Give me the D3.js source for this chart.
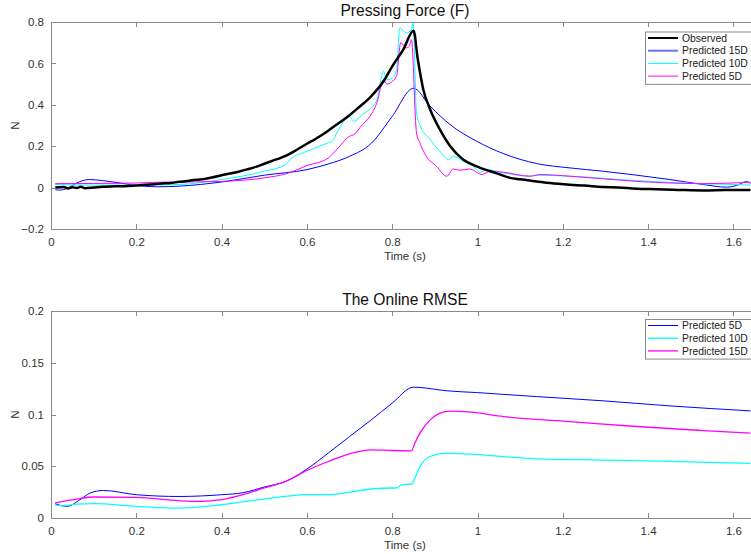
<!DOCTYPE html>
<html>
  <head>
    <meta charset="utf-8">
    <style>
      body { margin: 0; background: #fff; }
      svg { display: block; font-family: "Liberation Sans", Arial, sans-serif; }
      .axis path, .axis line { stroke: #8a8a8a; shape-rendering: crispEdges; }
      .axis text { fill: #333; font-size: 11.5px; }
      .title { font-size: 15.6px; fill: #111; }
      .label { font-size: 11.5px; fill: #333; }
      .legend text { font-size: 10.4px; fill: #222; }
    </style>
  </head>
  <body>
    <svg width="751" height="554"></svg>
    <script src="https://cdnjs.cloudflare.com/ajax/libs/d3/7.8.5/d3.min.js"></script>
    <script>
      // top panel: pressing force
      var obsT = [0.01,0.03,0.04,0.05,0.06,0.07,0.08,0.1,0.12,0.15,0.18,0.2,0.23,0.26,0.28,0.3,0.32,0.34,0.36,0.38,0.4,0.42,0.44,0.46,0.48,0.5,0.52,0.54,0.55,0.57,0.6,0.62,0.65,0.67,0.7,0.72,0.75,0.78,0.8,0.826,0.85,0.86,0.873,0.889,0.912,0.936,0.967,0.998,1.03,1.05,1.076,1.1,1.139,1.17,1.217,1.25,1.295,1.33,1.373,1.42,1.47,1.529,1.58,1.64];
      var obsV = [0,0.003,-0.004,0.002,-0.002,0.004,-0.003,0,0.004,0.006,0.008,0.01,0.015,0.02,0.022,0.028,0.032,0.038,0.042,0.05,0.06,0.068,0.077,0.088,0.1,0.115,0.13,0.145,0.153,0.175,0.212,0.235,0.275,0.305,0.35,0.385,0.44,0.515,0.586,0.667,0.758,0.62,0.473,0.377,0.28,0.2,0.135,0.103,0.079,0.065,0.047,0.04,0.03,0.022,0.014,0.01,0.003,0.001,-0.006,-0.008,-0.011,-0.014,-0.012,-0.011];

      var p15T = [0.01,0.02,0.04,0.06,0.09,0.12,0.15,0.2,0.25,0.3,0.4,0.5,0.6,0.65,0.7,0.75,0.8,0.85,0.889,0.936,0.998,1.061,1.139,1.217,1.295,1.373,1.451,1.529,1.584,1.607,1.631,1.64];
      var p15V = [-0.01,-0.012,-0.002,0.022,0.039,0.034,0.026,0.01,0.004,0.007,0.027,0.06,0.087,0.114,0.151,0.212,0.344,0.48,0.393,0.304,0.224,0.164,0.116,0.095,0.079,0.06,0.039,0.015,0.002,0.01,0.029,0.02];

      var p10T = [0.01,0.1,0.2,0.3,0.4,0.5,0.55,0.56,0.6,0.65,0.66,0.67,0.7,0.71,0.73,0.748,0.764,0.78,0.787,0.8,0.81,0.818,0.833,0.845,0.849,0.857,0.865,0.889,0.912,0.932,0.943,0.967,0.99,1.006,1.022,1.061,1.123,1.139,1.217,1.373,1.529,1.607,1.64];
      var p10V = [0.015,0.012,0.012,0.015,0.039,0.079,0.111,0.135,0.175,0.216,0.225,0.264,0.344,0.32,0.353,0.38,0.425,0.562,0.52,0.53,0.57,0.771,0.747,0.763,0.795,0.36,0.304,0.232,0.175,0.135,0.151,0.127,0.103,0.074,0.087,0.071,0.055,0.06,0.055,0.034,0.018,0.015,0.012];

      var p5T = [0.01,0.1,0.2,0.25,0.3,0.4,0.5,0.55,0.6,0.65,0.67,0.7,0.71,0.73,0.748,0.764,0.78,0.787,0.81,0.82,0.833,0.84,0.845,0.857,0.865,0.88,0.904,0.928,0.943,0.959,0.982,1.01,1.03,1.061,1.123,1.147,1.217,1.373,1.529,1.64];
      var p5V = [0.019,0.02,0.022,0.026,0.027,0.03,0.047,0.066,0.106,0.143,0.184,0.248,0.256,0.304,0.344,0.409,0.522,0.5,0.538,0.7,0.675,0.683,0.715,0.264,0.216,0.151,0.103,0.055,0.09,0.084,0.09,0.063,0.079,0.074,0.055,0.063,0.055,0.03,0.019,0.026];

      // bottom panel: online RMSE
      var r5T = [0.01,0.037,0.068,0.091,0.123,0.2,0.3,0.4,0.45,0.5,0.55,0.6,0.65,0.7,0.75,0.8,0.85,0.865,0.928,0.998,1.139,1.295,1.451,1.64];
      var r5V = [0.0138,0.0112,0.0177,0.024,0.0266,0.0225,0.0208,0.0225,0.0244,0.0299,0.0353,0.0473,0.0627,0.0787,0.0945,0.111,0.1264,0.1261,0.1229,0.1212,0.1173,0.1132,0.1083,0.1035];

      var r10T = [0.01,0.03,0.06,0.1,0.2,0.3,0.4,0.5,0.55,0.6,0.65,0.7,0.75,0.8,0.81,0.822,0.845,0.853,0.865,0.889,0.928,0.983,1.139,1.295,1.451,1.64];
      var r10V = [0.0125,0.0118,0.0135,0.0138,0.0112,0.0096,0.0128,0.0183,0.0208,0.0225,0.0225,0.025,0.028,0.029,0.029,0.0321,0.0328,0.0386,0.0498,0.0594,0.0627,0.0617,0.0572,0.056,0.0547,0.0527];

      var r15T = [0.01,0.04,0.06,0.1,0.2,0.3,0.35,0.4,0.45,0.5,0.55,0.6,0.65,0.7,0.75,0.8,0.845,0.853,0.865,0.889,0.912,0.936,0.983,1.061,1.217,1.373,1.529,1.64];
      var r15V = [0.0146,0.017,0.0183,0.0203,0.0199,0.0167,0.016,0.0177,0.0225,0.029,0.0353,0.0459,0.0546,0.062,0.0659,0.0652,0.0649,0.0723,0.082,0.0948,0.1013,0.1032,0.1022,0.098,0.0932,0.0884,0.0845,0.082];

      var xTicks = [0, 0.2, 0.4, 0.6, 0.8, 1, 1.2, 1.4, 1.6];
      var topTicks = [-0.2, 0, 0.2, 0.4, 0.6, 0.8];
      var botTicks = [0, 0.05, 0.1, 0.15, 0.2];

      function zip(ts, vs) { return ts.map(function(t, i){ return {t: t, v: vs[i]}; }); }

      var svg = d3.select("svg");

      function panel(opt) {
        var x = d3.scaleLinear().domain([0, 1.66]).range([51, 759]);
        var y = d3.scaleLinear().domain(opt.ydom).range([opt.bottom, opt.top]);
        var g = svg.append("g");

        g.append("defs").append("clipPath").attr("id", opt.id)
          .append("rect").attr("x", 51).attr("y", opt.top - 3)
          .attr("width", 708).attr("height", opt.bottom - opt.top + 6);

        var line = d3.line().curve(d3.curveMonotoneX)
          .x(function(d){ return x(d.t); }).y(function(d){ return y(d.v); });
        var lines = g.append("g").attr("clip-path", "url(#" + opt.id + ")");
        opt.series.forEach(function(s){
          lines.append("path").datum(zip(s.t, s.v))
            .attr("d", line).attr("fill", "none")
            .attr("stroke", s.color).attr("stroke-width", s.w)
            .attr("stroke-linejoin", "round");
        });

        g.append("g").attr("class", "axis")
          .attr("transform", "translate(0," + opt.bottom + ")")
          .call(d3.axisBottom(x).tickValues(xTicks).tickSize(-5).tickPadding(9).tickFormat(d3.format("")))
          .call(function(a){ a.select(".domain").attr("d", "M51,0H759"); });
        g.append("g").attr("class", "axis")
          .attr("transform", "translate(0," + opt.top + ")")
          .call(d3.axisTop(x).tickValues(xTicks).tickSize(-5).tickFormat(""))
          .call(function(a){ a.select(".domain").attr("d", "M51,0H759"); });
        g.append("g").attr("class", "axis")
          .attr("transform", "translate(51,0)")
          .call(d3.axisLeft(y).tickValues(opt.yticks).tickSize(-5).tickPadding(7).tickFormat(d3.format("")))
          .call(function(a){ a.select(".domain").attr("d", "M0," + opt.top + "V" + opt.bottom); });

        g.append("text").attr("class", "title").attr("text-anchor", "middle")
          .attr("x", 405).attr("y", opt.top - 6).text(opt.title);
        g.append("text").attr("class", "label").attr("text-anchor", "middle")
          .attr("x", 405).attr("y", opt.bottom + 31).text("Time (s)");
        g.append("text").attr("class", "label").attr("text-anchor", "middle")
          .attr("transform", "translate(19," + ((opt.top + opt.bottom) / 2) + ")rotate(-90)").text("N");

        var lg = g.append("g").attr("class", "legend");
        var lh = opt.legend.length * 12.7 + 1.5;
        lg.append("rect").attr("x", 645.5).attr("y", opt.legTop + 0.5)
          .attr("width", 110).attr("height", lh)
          .attr("fill", "#fff").attr("stroke", "#8a8a8a");
        opt.legend.forEach(function(s, i){
          var yy = opt.legTop + 6.5 + i * 12.7;
          lg.append("line").attr("x1", 648).attr("x2", 678).attr("y1", yy).attr("y2", yy)
            .attr("stroke", s.color).attr("stroke-width", s.w);
          lg.append("text").attr("x", 682).attr("y", yy + 3.7).text(s.name);
        });
      }

      var topSeries = [
        {name: "Observed", t: obsT, v: obsV, color: "#000", w: 2.5},
        {name: "Predicted 15D", t: p15T, v: p15V, color: "#0000ff", w: 1},
        {name: "Predicted 10D", t: p10T, v: p10V, color: "#00ffff", w: 1},
        {name: "Predicted 5D", t: p5T, v: p5V, color: "#ff00ff", w: 1}
      ];
      panel({
        id: "c1", top: 22, bottom: 229, ydom: [-0.2, 0.8], yticks: topTicks,
        title: "Pressing Force (F)", legTop: 31.5,
        series: topSeries.slice(1).concat([topSeries[0]]),
        legend: [
          {name: "Observed", color: "#000", w: 2},
          {name: "Predicted 15D", color: "#6f6fff", w: 2},
          {name: "Predicted 10D", color: "#00ffff", w: 1},
          {name: "Predicted 5D", color: "#ff00ff", w: 1}
        ]
      });

      var botSeries = [
        {name: "Predicted 5D", t: r5T, v: r5V, color: "#0000ff", w: 1},
        {name: "Predicted 10D", t: r10T, v: r10V, color: "#00ffff", w: 1.3},
        {name: "Predicted 15D", t: r15T, v: r15V, color: "#ff00ff", w: 1.3}
      ];
      panel({
        id: "c2", top: 311, bottom: 518, ydom: [0, 0.2], yticks: botTicks,
        title: "The Online RMSE", legTop: 319,
        series: botSeries, legend: botSeries
      });
    </script>
  </body>
</html>
